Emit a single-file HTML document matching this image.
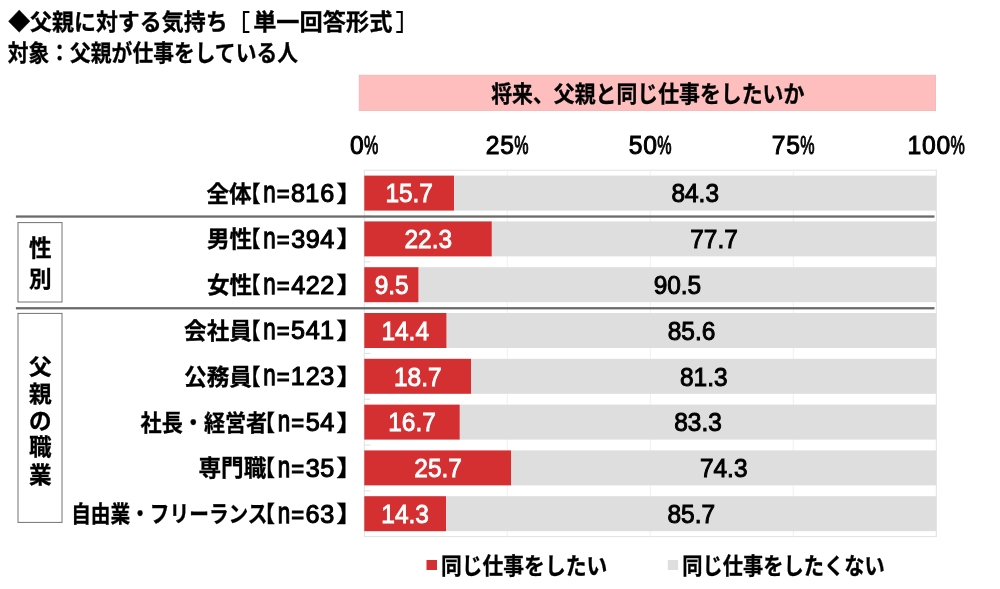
<!DOCTYPE html>
<html lang="ja"><head><meta charset="utf-8"><title>父親に対する気持ち</title>
<style>
html,body{margin:0;padding:0;background:#fff;}
body{width:1000px;height:589px;overflow:hidden;font-family:"Liberation Sans","Noto Sans CJK JP",sans-serif;}
svg{display:block;}
svg text{font-family:"Liberation Sans","Noto Sans CJK JP",sans-serif;}
svg text.jp{font-weight:bold;fill:#000;stroke:#000;stroke-width:0.3;}
</style></head><body>
<svg width="1000" height="589" viewBox="0 0 1000 589" style="will-change:transform">
<text class="jp" x="8.13" y="30.20" font-size="22.9" textLength="219.5" lengthAdjust="spacingAndGlyphs">◆父親に対する気持ち</text>
<text class="jp" x="253.18" y="30.30" font-size="23.2" textLength="139.2" lengthAdjust="spacingAndGlyphs">単一回答形式</text>
<path d="M249.4 11.9H243.9V31.9H249.4M396.3 11.9H401.8V31.9H396.3" fill="none" stroke="#000" stroke-width="2"/>
<text class="jp" x="7.75" y="60.70" font-size="22.9" textLength="290.2" lengthAdjust="spacingAndGlyphs">対象：父親が仕事をしている人</text>
<rect x="359.20" y="75.20" width="576.40" height="35.40" fill="#ffbebe" stroke="#f3b4b6" stroke-width="0.8"/>
<text class="jp" x="491.26" y="101.86" font-size="22.8" textLength="313.1" lengthAdjust="spacingAndGlyphs">将来、父親と同じ仕事をしたいか</text>
<rect x="364.30" y="170.20" width="572.00" height="366.40" fill="none" stroke="#e2e2e2" stroke-width="1"/>
<line x1="507.30" y1="170.20" x2="507.30" y2="536.60" stroke="#f0f0f0" stroke-width="1"/>
<line x1="650.30" y1="170.20" x2="650.30" y2="536.60" stroke="#f0f0f0" stroke-width="1"/>
<line x1="793.30" y1="170.20" x2="793.30" y2="536.60" stroke="#f0f0f0" stroke-width="1"/>
<line x1="364.30" y1="216.00" x2="370.30" y2="216.00" stroke="#dedede" stroke-width="1"/>
<line x1="364.30" y1="261.80" x2="370.30" y2="261.80" stroke="#dedede" stroke-width="1"/>
<line x1="364.30" y1="307.60" x2="370.30" y2="307.60" stroke="#dedede" stroke-width="1"/>
<line x1="364.30" y1="353.40" x2="370.30" y2="353.40" stroke="#dedede" stroke-width="1"/>
<line x1="364.30" y1="399.20" x2="370.30" y2="399.20" stroke="#dedede" stroke-width="1"/>
<line x1="364.30" y1="445.00" x2="370.30" y2="445.00" stroke="#dedede" stroke-width="1"/>
<line x1="364.30" y1="490.80" x2="370.30" y2="490.80" stroke="#dedede" stroke-width="1"/>
<g font-size="26.00" fill="#000" stroke="#000" stroke-width="1.00"><text transform="matrix(0.9500 0 0 1.0000 349.88 154.40)">0</text><text transform="matrix(0.6200 0 0 1.0000 364.08 154.40)">%</text></g>
<g font-size="26.00" fill="#000" stroke="#000" stroke-width="1.00"><text transform="matrix(0.9500 0 0 1.0000 485.63 154.40)">2</text><text transform="matrix(0.9500 0 0 1.0000 500.13 154.40)">5</text><text transform="matrix(0.6200 0 0 1.0000 514.33 154.40)">%</text></g>
<g font-size="26.00" fill="#000" stroke="#000" stroke-width="1.00"><text transform="matrix(0.9500 0 0 1.0000 628.63 154.40)">5</text><text transform="matrix(0.9500 0 0 1.0000 643.13 154.40)">0</text><text transform="matrix(0.6200 0 0 1.0000 657.33 154.40)">%</text></g>
<g font-size="26.00" fill="#000" stroke="#000" stroke-width="1.00"><text transform="matrix(0.9500 0 0 1.0000 771.63 154.40)">7</text><text transform="matrix(0.9500 0 0 1.0000 786.13 154.40)">5</text><text transform="matrix(0.6200 0 0 1.0000 800.33 154.40)">%</text></g>
<g font-size="26.00" fill="#000" stroke="#000" stroke-width="1.00"><text transform="matrix(0.9500 0 0 1.0000 907.38 154.40)">1</text><text transform="matrix(0.9500 0 0 1.0000 921.88 154.40)">0</text><text transform="matrix(0.9500 0 0 1.0000 936.38 154.40)">0</text><text transform="matrix(0.6200 0 0 1.0000 950.58 154.40)">%</text></g>
<rect x="15.90" y="215.40" width="918.60" height="2.30" fill="#6b6b6b"/>
<rect x="15.90" y="307.10" width="918.60" height="2.30" fill="#6b6b6b"/>
<rect x="18" y="222.6" width="44" height="79.4" fill="#fff" stroke="#727272" stroke-width="1"/>
<rect x="18" y="313.4" width="44" height="209" fill="#fff" stroke="#727272" stroke-width="1"/>
<text class="jp" x="29.00" y="256.19" font-size="22.6">性</text>
<text class="jp" x="29.00" y="286.69" font-size="22.6">別</text>
<text class="jp" x="28.90" y="375.39" font-size="22.6">父</text>
<text class="jp" x="28.90" y="402.29" font-size="22.6">親</text>
<text class="jp" x="28.90" y="429.09" font-size="22.6">の</text>
<text class="jp" x="28.90" y="455.49" font-size="22.6">職</text>
<text class="jp" x="28.90" y="482.59" font-size="22.6">業</text>
<rect x="364.30" y="175.60" width="89.80" height="35.00" fill="#d43032"/>
<rect x="454.10" y="175.60" width="482.20" height="35.00" fill="#dedede"/>
<text x="385.40" y="202.30" font-size="26.00" textLength="47.57" lengthAdjust="spacingAndGlyphs" fill="#fff" stroke="#fff" stroke-width="0.90">15.7</text>
<text x="671.42" y="202.30" font-size="26.00" textLength="47.57" lengthAdjust="spacingAndGlyphs" fill="#000" stroke="#000" stroke-width="1.00">84.3</text>
<g font-size="26.00" fill="#000" stroke="#000" stroke-width="1.10"><text transform="matrix(0.8600 0 0 1.1400 263.27 202.00)">n</text><text transform="matrix(0.8500 0 0 1.0000 276.75 202.00)">=</text><text transform="matrix(0.9700 0 0 1.0000 291.09 202.00)">8</text><text transform="matrix(0.9700 0 0 1.0000 305.34 202.00)">1</text><text transform="matrix(0.9700 0 0 1.0000 320.20 202.00)">6</text></g>
<text class="jp" x="336.34" y="201.69" font-size="22.6" textLength="26.42" lengthAdjust="spacingAndGlyphs">】</text>
<text class="jp" x="239.66" y="201.69" font-size="22.6" textLength="20.75" lengthAdjust="spacingAndGlyphs">【</text>
<text class="jp" x="206.39" y="201.69" font-size="22.6" textLength="45.2" lengthAdjust="spacingAndGlyphs">全体</text>
<rect x="364.30" y="221.40" width="127.56" height="35.00" fill="#d43032"/>
<rect x="491.86" y="221.40" width="444.44" height="35.00" fill="#dedede"/>
<text x="404.52" y="248.10" font-size="26.00" textLength="47.57" lengthAdjust="spacingAndGlyphs" fill="#fff" stroke="#fff" stroke-width="0.90">22.3</text>
<text x="690.28" y="248.10" font-size="26.00" textLength="47.57" lengthAdjust="spacingAndGlyphs" fill="#000" stroke="#000" stroke-width="1.00">77.7</text>
<g font-size="26.00" fill="#000" stroke="#000" stroke-width="1.10"><text transform="matrix(0.8600 0 0 1.1400 263.27 247.80)">n</text><text transform="matrix(0.8500 0 0 1.0000 276.75 247.80)">=</text><text transform="matrix(0.9700 0 0 1.0000 291.16 247.80)">3</text><text transform="matrix(0.9700 0 0 1.0000 305.69 247.80)">9</text><text transform="matrix(0.9700 0 0 1.0000 320.37 247.80)">4</text></g>
<text class="jp" x="336.34" y="247.49" font-size="22.6" textLength="26.42" lengthAdjust="spacingAndGlyphs">】</text>
<text class="jp" x="239.66" y="247.49" font-size="22.6" textLength="20.75" lengthAdjust="spacingAndGlyphs">【</text>
<text class="jp" x="206.93" y="247.49" font-size="22.6" textLength="45.2" lengthAdjust="spacingAndGlyphs">男性</text>
<rect x="364.30" y="267.20" width="54.34" height="35.00" fill="#d43032"/>
<rect x="418.64" y="267.20" width="517.66" height="35.00" fill="#dedede"/>
<text x="374.72" y="293.90" font-size="26.00" textLength="33.97" lengthAdjust="spacingAndGlyphs" fill="#fff" stroke="#fff" stroke-width="0.90">9.5</text>
<text x="653.63" y="293.90" font-size="26.00" textLength="47.57" lengthAdjust="spacingAndGlyphs" fill="#000" stroke="#000" stroke-width="1.00">90.5</text>
<g font-size="26.00" fill="#000" stroke="#000" stroke-width="1.10"><text transform="matrix(0.8600 0 0 1.1400 263.27 293.60)">n</text><text transform="matrix(0.8500 0 0 1.0000 276.75 293.60)">=</text><text transform="matrix(0.9700 0 0 1.0000 291.17 293.60)">4</text><text transform="matrix(0.9700 0 0 1.0000 305.69 293.60)">2</text><text transform="matrix(0.9700 0 0 1.0000 320.29 293.60)">2</text></g>
<text class="jp" x="336.34" y="293.29" font-size="22.6" textLength="26.42" lengthAdjust="spacingAndGlyphs">】</text>
<text class="jp" x="239.66" y="293.29" font-size="22.6" textLength="20.75" lengthAdjust="spacingAndGlyphs">【</text>
<text class="jp" x="206.93" y="293.29" font-size="22.6" textLength="45.2" lengthAdjust="spacingAndGlyphs">女性</text>
<rect x="364.30" y="313.00" width="82.37" height="35.00" fill="#d43032"/>
<rect x="446.67" y="313.00" width="489.63" height="35.00" fill="#dedede"/>
<text x="381.43" y="339.70" font-size="26.00" textLength="47.57" lengthAdjust="spacingAndGlyphs" fill="#fff" stroke="#fff" stroke-width="0.90">14.4</text>
<text x="667.71" y="339.70" font-size="26.00" textLength="47.57" lengthAdjust="spacingAndGlyphs" fill="#000" stroke="#000" stroke-width="1.00">85.6</text>
<g font-size="26.00" fill="#000" stroke="#000" stroke-width="1.10"><text transform="matrix(0.8600 0 0 1.1400 263.27 339.40)">n</text><text transform="matrix(0.8500 0 0 1.0000 276.75 339.40)">=</text><text transform="matrix(0.9700 0 0 1.0000 291.11 339.40)">5</text><text transform="matrix(0.9700 0 0 1.0000 305.77 339.40)">4</text><text transform="matrix(0.9700 0 0 1.0000 319.94 339.40)">1</text></g>
<text class="jp" x="336.34" y="339.09" font-size="22.6" textLength="26.42" lengthAdjust="spacingAndGlyphs">】</text>
<text class="jp" x="239.66" y="339.09" font-size="22.6" textLength="20.75" lengthAdjust="spacingAndGlyphs">【</text>
<text class="jp" x="184.11" y="339.09" font-size="22.6" textLength="67.8" lengthAdjust="spacingAndGlyphs">会社員</text>
<rect x="364.30" y="358.80" width="106.96" height="35.00" fill="#d43032"/>
<rect x="471.26" y="358.80" width="465.04" height="35.00" fill="#dedede"/>
<text x="393.98" y="385.50" font-size="26.00" textLength="47.57" lengthAdjust="spacingAndGlyphs" fill="#fff" stroke="#fff" stroke-width="0.90">18.7</text>
<text x="680.00" y="385.50" font-size="26.00" textLength="47.57" lengthAdjust="spacingAndGlyphs" fill="#000" stroke="#000" stroke-width="1.00">81.3</text>
<g font-size="26.00" fill="#000" stroke="#000" stroke-width="1.10"><text transform="matrix(0.8600 0 0 1.1400 263.27 385.20)">n</text><text transform="matrix(0.8500 0 0 1.0000 276.75 385.20)">=</text><text transform="matrix(0.9700 0 0 1.0000 290.74 385.20)">1</text><text transform="matrix(0.9700 0 0 1.0000 305.69 385.20)">2</text><text transform="matrix(0.9700 0 0 1.0000 320.36 385.20)">3</text></g>
<text class="jp" x="336.34" y="384.89" font-size="22.6" textLength="26.42" lengthAdjust="spacingAndGlyphs">】</text>
<text class="jp" x="239.66" y="384.89" font-size="22.6" textLength="20.75" lengthAdjust="spacingAndGlyphs">【</text>
<text class="jp" x="184.11" y="384.89" font-size="22.6" textLength="67.8" lengthAdjust="spacingAndGlyphs">公務員</text>
<rect x="364.30" y="404.60" width="95.52" height="35.00" fill="#d43032"/>
<rect x="459.82" y="404.60" width="476.48" height="35.00" fill="#dedede"/>
<text x="388.26" y="431.30" font-size="26.00" textLength="47.57" lengthAdjust="spacingAndGlyphs" fill="#fff" stroke="#fff" stroke-width="0.90">16.7</text>
<text x="674.28" y="431.30" font-size="26.00" textLength="47.57" lengthAdjust="spacingAndGlyphs" fill="#000" stroke="#000" stroke-width="1.00">83.3</text>
<g font-size="26.00" fill="#000" stroke="#000" stroke-width="1.10"><text transform="matrix(0.8600 0 0 1.1400 277.87 431.00)">n</text><text transform="matrix(0.8500 0 0 1.0000 291.35 431.00)">=</text><text transform="matrix(0.9700 0 0 1.0000 305.71 431.00)">5</text><text transform="matrix(0.9700 0 0 1.0000 320.37 431.00)">4</text></g>
<text class="jp" x="336.34" y="430.69" font-size="22.6" textLength="26.42" lengthAdjust="spacingAndGlyphs">】</text>
<text class="jp" x="254.26" y="430.69" font-size="22.6" textLength="20.75" lengthAdjust="spacingAndGlyphs">【</text>
<text class="jp" x="140.62" y="430.69" font-size="22.6" textLength="126.6" lengthAdjust="spacingAndGlyphs">社長・経営者</text>
<rect x="364.30" y="450.40" width="147.00" height="35.00" fill="#d43032"/>
<rect x="511.30" y="450.40" width="425.00" height="35.00" fill="#dedede"/>
<text x="414.32" y="477.10" font-size="26.00" textLength="47.57" lengthAdjust="spacingAndGlyphs" fill="#fff" stroke="#fff" stroke-width="0.90">25.7</text>
<text x="699.93" y="477.10" font-size="26.00" textLength="47.57" lengthAdjust="spacingAndGlyphs" fill="#000" stroke="#000" stroke-width="1.00">74.3</text>
<g font-size="26.00" fill="#000" stroke="#000" stroke-width="1.10"><text transform="matrix(0.8600 0 0 1.1400 277.87 476.80)">n</text><text transform="matrix(0.8500 0 0 1.0000 291.35 476.80)">=</text><text transform="matrix(0.9700 0 0 1.0000 305.76 476.80)">3</text><text transform="matrix(0.9700 0 0 1.0000 320.31 476.80)">5</text></g>
<text class="jp" x="336.34" y="476.49" font-size="22.6" textLength="26.42" lengthAdjust="spacingAndGlyphs">】</text>
<text class="jp" x="254.26" y="476.49" font-size="22.6" textLength="20.75" lengthAdjust="spacingAndGlyphs">【</text>
<text class="jp" x="198.53" y="476.49" font-size="22.6" textLength="67.8" lengthAdjust="spacingAndGlyphs">専門職</text>
<rect x="364.30" y="496.20" width="81.80" height="35.00" fill="#d43032"/>
<rect x="446.10" y="496.20" width="490.20" height="35.00" fill="#dedede"/>
<text x="381.32" y="522.90" font-size="26.00" textLength="47.57" lengthAdjust="spacingAndGlyphs" fill="#fff" stroke="#fff" stroke-width="0.90">14.3</text>
<text x="667.50" y="522.90" font-size="26.00" textLength="47.57" lengthAdjust="spacingAndGlyphs" fill="#000" stroke="#000" stroke-width="1.00">85.7</text>
<g font-size="26.00" fill="#000" stroke="#000" stroke-width="1.10"><text transform="matrix(0.8600 0 0 1.1400 277.87 522.60)">n</text><text transform="matrix(0.8500 0 0 1.0000 291.35 522.60)">=</text><text transform="matrix(0.9700 0 0 1.0000 305.60 522.60)">6</text><text transform="matrix(0.9700 0 0 1.0000 320.36 522.60)">3</text></g>
<text class="jp" x="336.34" y="522.29" font-size="22.6" textLength="26.42" lengthAdjust="spacingAndGlyphs">】</text>
<text class="jp" x="254.26" y="522.29" font-size="22.6" textLength="20.75" lengthAdjust="spacingAndGlyphs">【</text>
<text class="jp" x="71.16" y="522.29" font-size="22.6" textLength="196.4" lengthAdjust="spacingAndGlyphs">自由業・フリーランス</text>
<rect x="426.50" y="560.00" width="10.50" height="10.00" fill="#d43032"/>
<text class="jp" x="440.96" y="573.59" font-size="22.6" textLength="166.3" lengthAdjust="spacingAndGlyphs">同じ仕事をしたい</text>
<rect x="667.80" y="560.00" width="10.30" height="10.00" fill="#dedede"/>
<text class="jp" x="682.21" y="573.59" font-size="22.6" textLength="202.5" lengthAdjust="spacingAndGlyphs">同じ仕事をしたくない</text>
</svg>
</body></html>
